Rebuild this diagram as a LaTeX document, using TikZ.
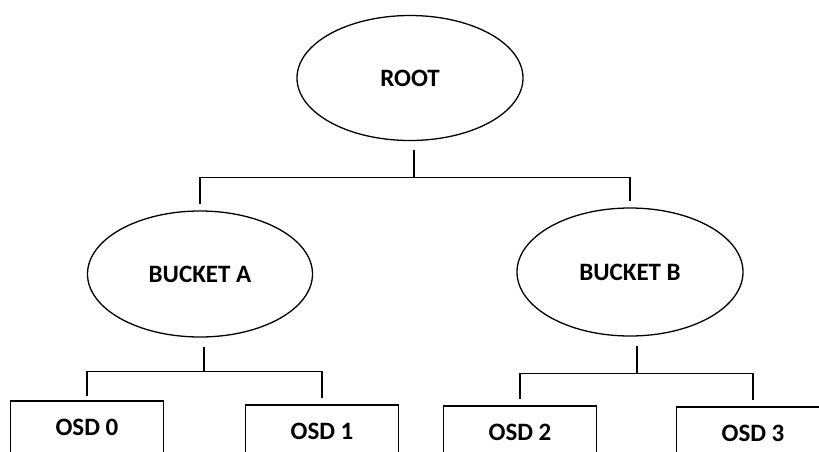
\documentclass[tikz,border=0pt]{standalone}
\usepackage{fontspec}
\setmainfont{Carlito}
\usetikzlibrary{shapes.geometric}

\begin{document}
\begin{tikzpicture}[x=1pt, y=-1pt,
    bucket/.style={draw, ellipse, line width=1.3pt, inner sep=0pt,
        font=\fontsize{25}{30}\selectfont\bfseries},
    osd/.style={draw, rectangle, line width=1.3pt, minimum width=153pt,
        minimum height=52pt, inner sep=0pt,
        font=\fontsize{25}{30}\selectfont\bfseries},
    link/.style={line width=1.3pt, shorten <=9pt, shorten >=6pt}]
    \useasboundingbox (0,0) rectangle (819,451);
    \clip (0,0) rectangle (819,451);
    \node[bucket, minimum width=226pt, minimum height=125pt] (root) at (410,78) {ROOT};
    \node[bucket, minimum width=225pt, minimum height=126pt] (bucketA) at (200,274) {BUCKET A};
    \node[bucket, minimum width=226pt, minimum height=128pt] (bucketB) at (630,272) {BUCKET B};
    \node[osd] (osd0) at (87,427) {OSD 0};
    \node[osd] (osd1) at (322,431) {OSD 1};
    \node[osd] (osd2) at (520,432) {OSD 2};
    \node[osd] (osd3) at (753,433) {OSD 3};
    \draw[link] ([xshift=4pt]root.south) -- ++(0,36) -| (bucketA.north);
    \draw[link] ([xshift=4pt]root.south) -- ++(0,36) -| (bucketB.north);
    \draw[link, shorten >=4pt] ([xshift=4pt]bucketA.south) -- ++(0,34) -| (osd0.north);
    \draw[link] ([xshift=4pt]bucketA.south) -- ++(0,34) -| (osd1.north);
    \draw[link] ([xshift=7pt]bucketB.south) -- ++(0,37) -| (osd2.north);
    \draw[link] ([xshift=7pt]bucketB.south) -- ++(0,37) -| (osd3.north);
\end{tikzpicture}
\end{document}
